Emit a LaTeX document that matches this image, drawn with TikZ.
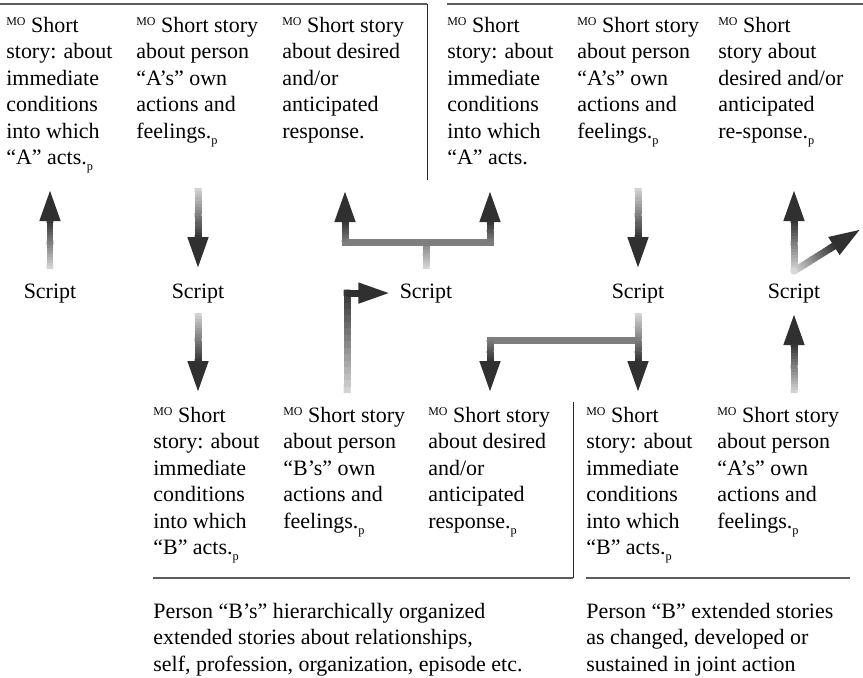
\documentclass[tikz,border=0pt]{standalone}
\usepackage{fontspec}
\setmainfont{Liberation Serif}
\usepackage{tikz}
\usetikzlibrary{calc}
\usetikzlibrary{arrows.meta}

\definecolor{arrlite}{HTML}{D8D8D8}
\definecolor{arrmid}{HTML}{7E7E7E}
\definecolor{arrdark}{HTML}{303030}
\definecolor{rulegray}{HTML}{5C5C5C}

\newcommand{\mo}{\raisebox{4pt}{\fontsize{6.8}{7}\selectfont MO}}
\newcommand{\psub}{\raisebox{-3.5pt}{\fontsize{7}{7}\selectfont p}}

\newcommand{\gradseg}[4]{%
  \foreach \i in {0,...,15}{%
    \pgfmathsetmacro{\ta}{\i/16}%
    \pgfmathsetmacro{\tb}{min((\i+1.3)/16,1)}%
    \pgfmathsetmacro{\mix}{100*(\i+0.5)/16}%
    \draw[shaft,draw=#4!\mix!#3] ($(#1)!\ta!(#2)$) -- ($(#1)!\tb!(#2)$);
  }}
\newcommand{\gradarrow}[4]{%
  \draw[headtip,draw=#4] ($(#2)!0.75cm!(#1)$) -- (#2);
  \coordinate (hb) at ($(#2)!0.62cm!(#1)$);
  \gradseg{#1}{hb}{#3}{#4}}

\begin{document}
\begin{tikzpicture}[x=0.02cm,y=-0.02cm,
  story/.style={anchor=north west,align=left,inner sep=0pt,
    font=\fontsize{12.5}{15}\selectfont},
  script/.style={anchor=base,inner sep=0pt,font=\fontsize{12.5}{15}\selectfont},
  rule/.style={draw=rulegray,line width=0.032cm},
  edge/.style={draw=black!85,line width=0.02cm},
  shaft/.style={line width=0.14cm},
  headtip/.style={line width=0.14cm,-{Triangle[width=0.38cm,length=0.64cm]}}]
  \useasboundingbox (0,0) rectangle (863,677);

  \node[story] (a1) at (6,17)
    {\mo{} Short\\story: about\\immediate\\conditions\\into which\\“A” acts.\psub};
  \node[story] (a2) at (136,17)
    {\mo{} Short story\\about person\\“A’s” own\\actions and\\feelings.\psub};
  \node[story] (a3) at (282,17)
    {\mo{} Short story\\about desired\\and/or\\anticipated\\response.};
  \node[story] (a4) at (447,17)
    {\mo{} Short\\story: about\\immediate\\conditions\\into which\\“A” acts.};
  \node[story] (a5) at (577,17)
    {\mo{} Short story\\about person\\“A’s” own\\actions and\\feelings.\psub};
  \node[story] (a6) at (718,17)
    {\mo{} Short\\story about\\desired and/or\\anticipated\\re-sponse.\psub};

  \node[script] (s1) at (50,298) {Script};
  \node[script] (s2) at (198,298) {Script};
  \node[script] (s3) at (426,298) {Script};
  \node[script] (s5) at (638,298) {Script};
  \node[script] (s6) at (794,298) {Script};

  \node[story] (b1) at (153,407)
    {\mo{} Short\\story: about\\immediate\\conditions\\into which\\“B” acts.\psub};
  \node[story] (b2) at (283,407)
    {\mo{} Short story\\about person\\“B’s” own\\actions and\\feelings.\psub};
  \node[story] (b3) at (428,407)
    {\mo{} Short story\\about desired\\and/or\\anticipated\\response.\psub};
  \node[story] (b4) at (586,407)
    {\mo{} Short\\story: about\\immediate\\conditions\\into which\\“B” acts.\psub};
  \node[story] (b5) at (717,407)
    {\mo{} Short story\\about person\\“A’s” own\\actions and\\feelings.\psub};

  \node[story] (c1) at (153,603)
    {Person “B’s” hierarchically organized\\extended stories about relationships,\\self, profession, organization, episode etc.};
  \node[story] (c2) at (586,603)
    {Person “B” extended stories\\as changed, developed or\\sustained in joint action};

  \draw[rule] (0,4) -- (427,4);
  \draw[edge] (427,4) -- (427,180);
  \draw[rule] (447,4) -- (863,4);
  \draw[rule] (153,578) -- (573,578);
  \draw[edge] (573,578) -- (573,402);
  \draw[rule] (586,578) -- (850,578);

  \coordinate (t1) at ($(s1.north)+(0,-14)$);
  \coordinate (h1) at (s1 |- 0,189);
  \gradarrow{t1}{h1}{arrlite}{arrdark}

  \coordinate (t2) at (s2 |- 0,188);
  \coordinate (h2) at ($(s2.north)+(0,-14)$);
  \gradarrow{t2}{h2}{arrlite}{arrdark}
  \coordinate (t2b) at ($(s2.south)+(0,10)$);
  \coordinate (h2b) at ($(s2 |- b1.north)+(0,-14)$);
  \gradarrow{t2b}{h2b}{arrlite}{arrdark}

  \coordinate (t3) at ($(s3.north)+(0,-14)$);
  \coordinate (j3) at (426,242);
  \coordinate (l3) at (345,242);
  \coordinate (r3) at (490,242);
  \gradseg{t3}{j3}{arrlite}{arrmid}
  \draw[shaft,draw=arrmid] ($(l3)+(-3.5,0)$) -- ($(r3)+(3.5,0)$);
  \coordinate (hl3) at (l3 |- 0,190);
  \coordinate (hr3) at (r3 |- 0,190);
  \gradarrow{l3}{hl3}{arrmid}{arrdark}
  \gradarrow{r3}{hr3}{arrmid}{arrdark}

  \coordinate (p3) at ($(s3.west)+(-9,0)$);
  \coordinate (m3) at ($(347,0 |- b2.north)+(0,-14)$);
  \coordinate (k3) at (m3 |- p3);
  \gradseg{m3}{$(k3)+(0,-3.5)$}{arrlite}{arrdark}
  \gradarrow{k3}{p3}{arrdark}{arrdark}

  \coordinate (t5) at (s5 |- 0,188);
  \coordinate (h5) at ($(s5.north)+(0,-14)$);
  \gradarrow{t5}{h5}{arrlite}{arrdark}
  \coordinate (t5b) at ($(s5.south)+(0,10)$);
  \coordinate (j5) at (638,340);
  \coordinate (l5) at (490,340);
  \gradseg{t5b}{j5}{arrlite}{arrmid}
  \draw[shaft,draw=arrmid] (j5) -- ($(l5)+(-3.5,0)$);
  \coordinate (hj5) at ($(s5 |- b4.north)+(0,-14)$);
  \coordinate (hl5) at (l5 |- hj5);
  \gradarrow{j5}{hj5}{arrmid}{arrdark}
  \gradarrow{l5}{hl5}{arrmid}{arrdark}

  \coordinate (k6) at ($(s6.north)+(0,-12)$);
  \coordinate (u6) at (s6 |- 0,189);
  \coordinate (d6) at (861,229);
  \gradarrow{k6}{u6}{arrlite}{arrdark}
  \gradarrow{k6}{d6}{arrlite}{arrdark}
  \fill[arrlite] (k6) circle[radius=0.07cm];
  \coordinate (t6b) at ($(s6 |- b5.north)+(0,-14)$);
  \coordinate (h6b) at ($(s6.south)+(0,10)$);
  \gradarrow{t6b}{h6b}{arrlite}{arrdark}
\end{tikzpicture}
\end{document}
